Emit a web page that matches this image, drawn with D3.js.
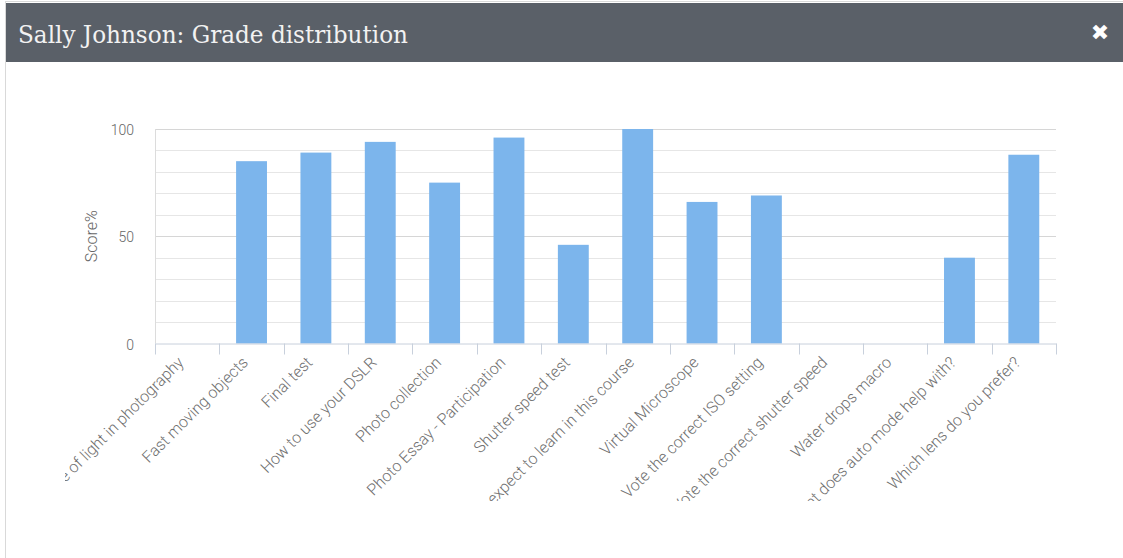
<!DOCTYPE html>
<html>
<head>
<meta charset="utf-8">
<script src="https://cdn.jsdelivr.net/npm/d3@7"></script>
<style>
  html, body { margin: 0; padding: 0; background: #fff; }
  svg { display: block; }
</style>
</head>
<body>
<svg id="chart" width="1123" height="558"></svg>
<script>
const titleText = "Sally Johnson: Grade distribution";
const categories = [
  "Use of light in photography",
  "Fast moving objects",
  "Final test",
  "How to use your DSLR",
  "Photo collection",
  "Photo Essay - Participation",
  "Shutter speed test",
  "What do you expect to learn in this course",
  "Virtual Microscope",
  "Vote the correct ISO setting",
  "Vote the correct shutter speed",
  "Water drops macro",
  "What does auto mode help with?",
  "Which lens do you prefer?"
];
const scores = [0, 85, 89, 94, 75, 96, 46, 100, 66, 69, 0, 0, 40, 88];
const yTickLabels = [0, 50, 100];
const yGridValues = [0, 10, 20, 30, 40, 50, 60, 70, 80, 90, 100];
const yAxisTitle = "Score%";

(function () {
const svg = d3.select("#chart");
const W = 1123, H = 558;

// modal frame
svg.append("rect").attr("x", 5.5).attr("y", 1.5).attr("width", W).attr("height", H)
  .attr("fill", "#fff").attr("stroke", "#d9d9d9");
svg.append("rect").attr("x", 6).attr("y", 3).attr("width", W - 6).attr("height", 59)
  .attr("fill", "#5a6068");
svg.append("text").attr("x", 18).attr("y", 43)
  .attr("fill", "#f2f2f2").attr("font-family", "DejaVu Serif, serif")
  .attr("font-size", 25).attr("textLength", 390).attr("lengthAdjust", "spacingAndGlyphs")
  .text(titleText);
svg.append("text").attr("x", 1100).attr("y", 40).attr("text-anchor", "middle")
  .attr("fill", "#fff").attr("font-family", "DejaVu Sans, sans-serif")
  .attr("font-weight", "bold").attr("font-size", 22).text("\u2716");

// plot
const pl = 155, pr = 1056, pt = 129, pb = 343.5;
const x = d3.scaleBand().domain(categories).range([pl, pr]).paddingInner(0).paddingOuter(0);
const y = d3.scaleLinear().domain([0, 100]).range([pb, pt]);

const g = svg.append("g");
g.selectAll("line.grid").data(yGridValues.filter(v => v > 0)).enter().append("line")
  .attr("x1", pl).attr("x2", pr)
  .attr("y1", d => Math.round(y(d)) + 0.5).attr("y2", d => Math.round(y(d)) + 0.5)
  .attr("stroke", d => d % 50 === 0 ? "#d6d6d6" : "#e6e6e6").attr("stroke-width", 1);
g.append("line").attr("x1", pl + 0.5).attr("x2", pl + 0.5).attr("y1", pt).attr("y2", pb)
  .attr("stroke", "#dcdcdc");

const bw = x.bandwidth() * 0.48;
g.selectAll("rect.bar").data(scores).enter().append("rect")
  .attr("x", (d, i) => x(categories[i]) + (x.bandwidth() - bw) / 2)
  .attr("width", bw)
  .attr("y", d => y(d))
  .attr("height", d => pb - y(d))
  .attr("fill", "#7cb5ec");

const xAxis = d3.axisBottom(x).tickSize(0).tickFormat("");
const xa = svg.append("g").attr("transform", `translate(0,${pb})`).call(xAxis);
xa.select(".domain").attr("stroke", "#c8d0dc");
const bounds = [pl, ...categories.map(c => x(c) + x.bandwidth())];
xa.selectAll("line.tk").data(bounds).enter().append("line")
  .attr("x1", d => Math.round(d) + 0.5).attr("x2", d => Math.round(d) + 0.5)
  .attr("y1", 0).attr("y2", 11).attr("stroke", "#c8d0dc");

svg.append("clipPath").attr("id", "lblclip").append("rect")
  .attr("x", 65).attr("y", 344).attr("width", 1000).attr("height", 157);
const lg = svg.append("g").attr("clip-path", "url(#lblclip)");
lg.selectAll("text").data(categories).enter().append("text")
  .attr("transform", d => `translate(${x(d) + x.bandwidth() / 2 - 2.5},${pb + 20}) rotate(-45)`)
  .attr("text-anchor", "end")
  .attr("fill", "#707070").attr("font-family", "Roboto, sans-serif")
  .attr("font-weight", 300).attr("font-size", 16)
  .text(d => d);

svg.selectAll("text.ylab").data(yTickLabels).enter().append("text")
  .attr("x", 134).attr("y", d => y(d) + 6)
  .attr("text-anchor", "end").attr("fill", "#666")
  .attr("font-family", "Roboto, sans-serif").attr("font-weight", 300).attr("font-size", 14)
  .text(d => d);
svg.append("text").attr("transform", `translate(97,${(pt + pb) / 2}) rotate(-90)`)
  .attr("text-anchor", "middle").attr("fill", "#666")
  .attr("font-family", "Roboto, sans-serif").attr("font-weight", 300).attr("font-size", 16)
  .text(yAxisTitle);
})();
</script>
</body>
</html>
